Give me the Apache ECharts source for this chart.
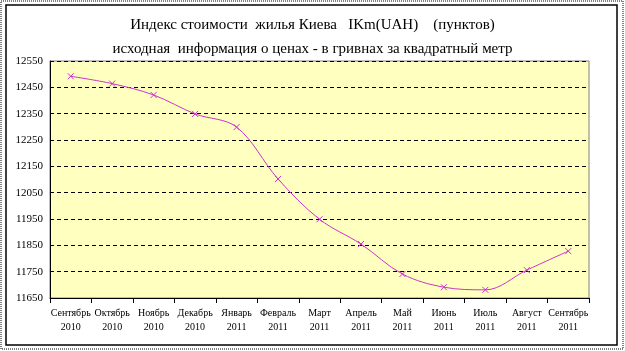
<!DOCTYPE html>
<html lang="ru">
<head>
    <meta charset="UTF-8">
    <title>Индекс стоимости жилья Киева</title>
    <script src="https://cdn.jsdelivr.net/npm/echarts@6/dist/echarts.min.js"></script>
    <style>
        html, body { margin: 0; padding: 0; background: #fff; }
        #chart { width: 625px; height: 351px; }
    </style>
</head>
<body>
    <div id="chart"></div>
    <script>
        var months = ['Сентябрь', 'Октябрь', 'Ноябрь', 'Декабрь', 'Январь', 'Февраль', 'Март',
                      'Апрель', 'Май', 'Июнь', 'Июль', 'Август', 'Сентябрь'];
        var years = ['2010', '2010', '2010', '2010', '2011', '2011', '2011',
                     '2011', '2011', '2011', '2011', '2011', '2011'];
        var indexValues = [12492, 12464, 12421, 12349, 12299, 12102, 11949,
                           11855, 11741, 11691, 11681, 11756, 11828];

        var categories = months.map(function (m, i) { return m + '\n' + years[i]; });

        var chart = echarts.init(document.getElementById('chart'));
        var option = {
            backgroundColor: '#fff',
            animation: false,
            title: {
                text: 'Индекс стоимости  жилья Киева   IKm(UAH)    (пунктов)\nисходная  информация о ценах - в гривнах за квадратный метр',
                left: 'center',
                top: 8,
                textStyle: {
                    fontFamily: 'Liberation Serif',
                    fontWeight: 'normal',
                    fontSize: 15,
                    lineHeight: 24,
                    color: '#000'
                }
            },
            graphic: [
                { type: 'rect', shape: { x: 1, y: 1, width: 622, height: 348 },
                  style: { fill: 'none', stroke: '#000', lineWidth: 1, lineDash: [1, 1] } },
                { type: 'rect', shape: { x: 6, y: 5, width: 611, height: 340 },
                  style: { fill: 'none', stroke: '#000', lineWidth: 1.5 } }
            ],
            grid: {
                left: 50, right: 36, top: 61, bottom: 53,
                show: true,
                backgroundColor: '#ffffc0',
                borderColor: '#808080',
                borderWidth: 1
            },
            xAxis: {
                type: 'category',
                data: categories,
                boundaryGap: true,
                axisLine: { lineStyle: { color: '#000' } },
                axisTick: { show: true, alignWithLabel: false, length: 5, lineStyle: { color: '#000' } },
                axisLabel: {
                    interval: 0,
                    fontFamily: 'Liberation Serif',
                    fontSize: 10,
                    lineHeight: 14,
                    color: '#000',
                    margin: 8
                }
            },
            yAxis: {
                type: 'value',
                min: 11650,
                max: 12550,
                interval: 100,
                axisLine: { show: true, lineStyle: { color: '#000' } },
                axisTick: { show: false },
                axisLabel: {
                    fontFamily: 'Liberation Serif',
                    fontSize: 11,
                    color: '#000',
                    margin: 7,
                    formatter: function (v) { return String(v); }
                },
                splitLine: { show: true, lineStyle: { color: '#000', type: [4, 3], width: 1 } }
            },
            series: [{
                type: 'line',
                data: indexValues,
                smooth: 0.35,
                symbol: 'path://M0,0L10,10M10,0L0,10',
                symbolSize: 6,
                lineStyle: { color: '#cc33cc', width: 1 },
                itemStyle: { color: 'none', borderColor: '#cc33cc', borderWidth: 1 }
            }]
        };
        chart.setOption(option);
    </script>
</body>
</html>
